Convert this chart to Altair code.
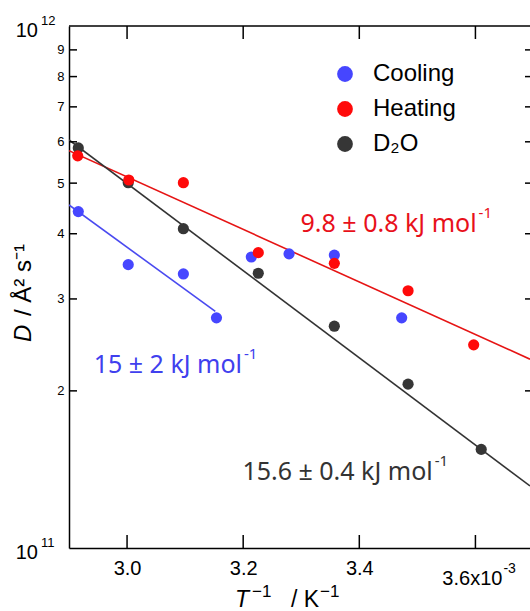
import altair as alt
import pandas as pd

# ---------------- data ----------------
series_names = ["Cooling", "Heating", "D₂O"]
series_colors = ["#4646ff", "#ff0a0a", "#363636"]
line_colors = ["#4a4af0", "#e61414", "#333333"]

# T^-1 in units of 1e-3 K^-1, D in units of 1e11 Å^2 s^-1
cool_x = [2.916, 3.002, 3.097, 3.154, 3.214, 3.279, 3.357, 3.473]
cool_y = [4.41, 3.49, 3.35, 2.76, 3.61, 3.66, 3.64, 2.76]

heat_x = [2.915, 3.003, 3.097, 3.226, 3.357, 3.484, 3.597]
heat_y = [5.64, 5.07, 5.01, 3.68, 3.51, 3.11, 2.45]

d2o_x = [2.916, 3.002, 3.097, 3.226, 3.357, 3.484, 3.610]
d2o_y = [5.84, 5.01, 4.09, 3.36, 2.66, 2.06, 1.545]

# Arrhenius fit lines (end points)
cool_fit_x = [2.900, 3.152]
cool_fit_y = [4.54, 2.84]
heat_fit_x = [2.900, 3.694]
heat_fit_y = [5.77, 2.30]
d2o_fit_x = [2.900, 3.694]
d2o_fit_y = [6.05, 1.315]

# annotation texts: (text, x anchor = end of "mol", y anchor baseline, color)
ann_text = ["9.8 ± 0.8 kJ mol", "15 ± 2 kJ mol", "15.6 ± 0.4 kJ mol"]
ann_x = [3.602, 3.198, 3.5265]
ann_y = [4.034, 2.165, 1.350]
ann_color = ["#e8101a", "#4040ee", "#333333"]

x_tick_vals = [3.0, 3.2, 3.4, 3.6]
x_label_vals = [3.0, 3.2, 3.4]
y_minor_vals = [2, 3, 4, 5, 6, 7, 8, 9]

# ---------------- layout ----------------
FONT = "Liberation Sans"
ANN_FONT = "Noto Sans"
W, H = 461, 522
XMIN, XMAX = 2.9, 3.694
YMIN, YMAX = 1e11, 1e12

xs = alt.Scale(domain=[XMIN, XMAX], nice=False, zero=False)
ys = alt.Scale(type="log", domain=[YMIN, YMAX], nice=False)

x_axis = alt.Axis(values=x_label_vals, format=".1f", title=None, tickSize=0,
                  labelFontSize=20, labelFont=FONT, labelColor="black",
                  labelPadding=10, domainColor="black", domainWidth=1.5,
                  grid=False, labelFlush=False)
y_axis = alt.Axis(values=[v * 1e11 for v in y_minor_vals],
                  labelExpr="format(round(datum.value/1e11), 'd')",
                  title=None, tickSize=0, labelFontSize=13, labelFont=FONT,
                  labelColor="black", labelPadding=5, domainColor="black",
                  domainWidth=1.5, grid=False)

X = lambda f="x": alt.X(f"{f}:Q", scale=xs, axis=x_axis)
Y = lambda f="y": alt.Y(f"{f}:Q", scale=ys, axis=y_axis)

# points
rows = []
for name, xx, yy in [("D₂O", d2o_x, d2o_y), ("Cooling", cool_x, cool_y),
                     ("Heating", heat_x, heat_y)]:
    for a, b in zip(xx, yy):
        rows.append({"series": name, "x": a, "y": b * 1e11})
pts = pd.DataFrame(rows)

# fit lines, one layer per series with its own colour
line_layers = []
for name, xx, yy, c in [("Cooling", cool_fit_x, cool_fit_y, line_colors[0]),
                        ("Heating", heat_fit_x, heat_fit_y, line_colors[1]),
                        ("D₂O", d2o_fit_x, d2o_fit_y, line_colors[2])]:
    d = pd.DataFrame({"x": xx, "y": [v * 1e11 for v in yy]})
    line_layers.append(alt.Chart(d).mark_line(strokeWidth=1.6, clip=True, color=c).encode(
        x=X(), y=Y()))

points = alt.Chart(pts).mark_circle(size=125, opacity=1).encode(
    x=X(), y=Y(),
    color=alt.Color("series:N", scale=alt.Scale(domain=series_names, range=series_colors),
                    legend=alt.Legend(title=None, orient="none", legendX=264, legendY=36,
                                      symbolType="circle", symbolSize=250,
                                      symbolStrokeWidth=0, symbolOpacity=1,
                                      labelFontSize=24, labelFont=FONT,
                                      labelColor="black", labelOffset=16,
                                      rowPadding=11, padding=0)),
    order=alt.Order("ord:Q"),
).transform_calculate(ord="datum.series == 'D₂O' ? 0 : (datum.series == 'Cooling' ? 1 : 2)")

# frame & ticks
top_border = alt.Chart(pd.DataFrame({"x": [XMIN], "x2": [XMAX], "y": [YMAX]})).mark_rule(
    color="black", strokeWidth=1.5).encode(x=X(), x2="x2:Q", y=Y())

xt = pd.DataFrame({"x": x_tick_vals})
bot_ticks = alt.Chart(xt).mark_rule(color="black", strokeWidth=1.5).encode(
    x=X(), y=alt.value(H), y2=alt.value(H - 13))
top_ticks = alt.Chart(xt).mark_rule(color="black", strokeWidth=1.5).encode(
    x=X(), y=alt.value(0), y2=alt.value(13))

yt = pd.DataFrame({"y": [v * 1e11 for v in y_minor_vals]})
left_ticks = alt.Chart(yt).mark_rule(color="black", strokeWidth=1.5).encode(
    y=Y(), x=alt.value(0), x2=alt.value(8))
right_ticks = alt.Chart(yt).mark_rule(color="black", strokeWidth=1.5).encode(
    y=Y(), x=alt.value(W - 5), x2=alt.value(W))

# decade labels 10^11, 10^12
dec = pd.DataFrame({"x": [XMIN, XMIN], "y": [YMIN, YMAX], "e": ["11", "12"]})
dec_base = alt.Chart(dec).mark_text(align="right", baseline="alphabetic", dx=-31, dy=11,
                                    fontSize=20, font=FONT, color="black").encode(
    x=X(), y=Y(), text=alt.value("10"))
dec_exp = alt.Chart(dec).mark_text(align="left", baseline="alphabetic", dx=-28, dy=-1,
                                   fontSize=13, font=FONT, color="black").encode(
    x=X(), y=Y(), text="e:N")

# 3.6x10^-3 label
lab36 = pd.DataFrame({"x": [3.6], "y": [YMIN], "t": ["3.6x10"], "e": ["-3"]})
l36 = alt.Chart(lab36).mark_text(align="right", baseline="alphabetic", dx=27, dy=37,
                                 fontSize=20, font=FONT, color="black").encode(
    x=X(), y=Y(), text="t:N")
l36e = alt.Chart(lab36).mark_text(align="left", baseline="alphabetic", dx=28, dy=25,
                                  fontSize=14, font=FONT, color="black").encode(
    x=X(), y=Y(), text="e:N")

# annotations (one layer per fit, each in its own colour)
ann_layers = []
for t, ax, ay, c in zip(ann_text, ann_x, ann_y, ann_color):
    d = pd.DataFrame({"t": [t], "x": [ax], "y": [ay * 1e11]})
    ann_layers.append(alt.Chart(d).mark_text(align="right", baseline="alphabetic", fontSize=25,
                                             font=ANN_FONT, color=c).encode(
        x=X(), y=Y(), text="t:N"))
    ann_layers.append(alt.Chart(d).mark_text(align="left", baseline="alphabetic", fontSize=15,
                                             font=ANN_FONT, dx=2, dy=-14, color=c).encode(
        x=X(), y=Y(), text=alt.value("-1")))

# axis titles
tt = pd.DataFrame({"k": [0]})
def txt(t, x, y, size, italic=False, angle=0):
    kw = dict(align="left", baseline="alphabetic", fontSize=size, font=FONT, color="black")
    if italic:
        kw["fontStyle"] = "italic"
    if angle:
        kw["angle"] = angle
    return alt.Chart(tt).mark_text(**kw).encode(x=alt.value(x), y=alt.value(y), text=alt.value(t))

x_title = [
    txt("T", 166, 581, 23, italic=True),
    txt("−1", 183, 571, 17),
    txt("/ K", 222, 581, 23),
    txt("−1", 251, 571, 17),
]
y_title = [
    txt("D", -38, 316, 24, italic=True, angle=270),
    txt("/ Å² s⁻¹", -38, 290, 24, angle=270),
]

chart = alt.layer(
    *line_layers, points, top_border, bot_ticks, top_ticks, left_ticks, right_ticks,
    dec_base, dec_exp, l36, l36e, *ann_layers, *x_title, *y_title
).properties(
    width=W, height=H,
    padding={"left": 69, "top": 26, "right": 0, "bottom": 63},
    autosize=alt.AutoSizeParams(type="none"),
    background="white",
).configure_view(stroke=None)

chart.save("out.html", embed_options={"renderer": "svg", "actions": False})
